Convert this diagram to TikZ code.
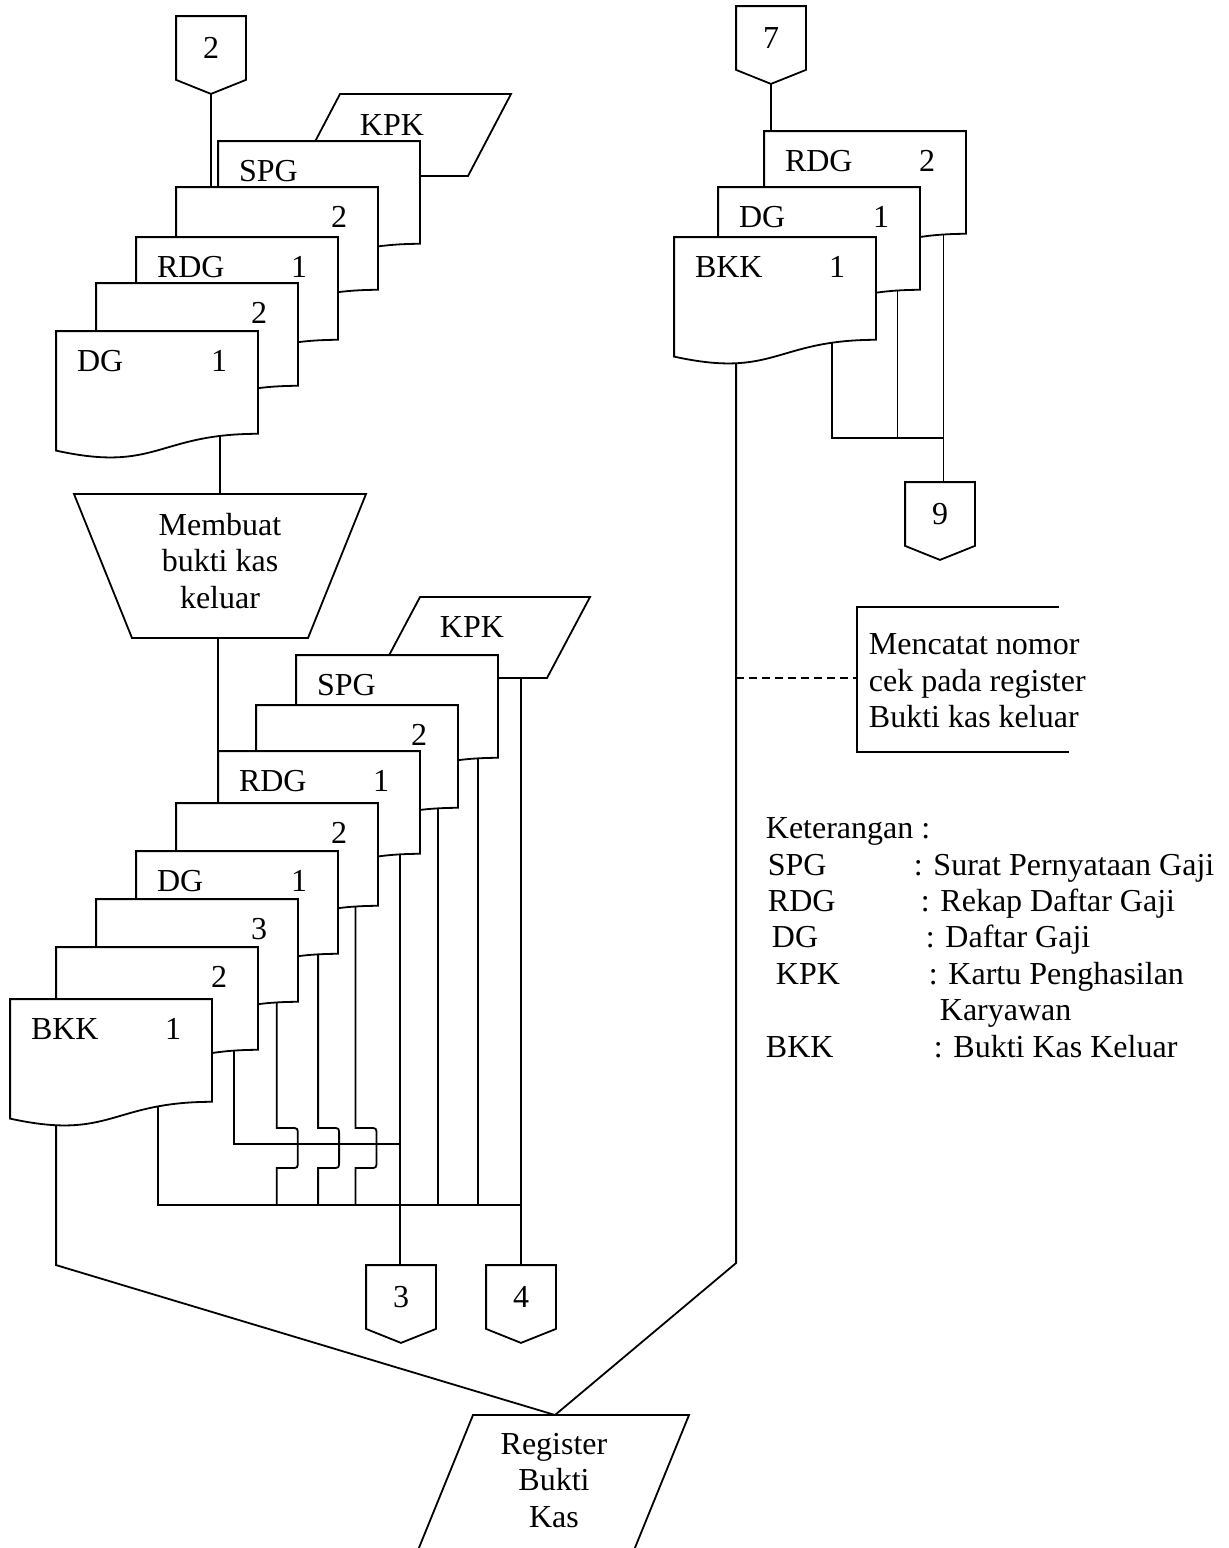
\documentclass[tikz,border=0pt]{standalone}
\usepackage{fontspec}
\setmainfont{Liberation Serif}
\usetikzlibrary{calc, positioning}

\tikzset{
  docbox/.style={rectangle, inner sep=0pt, minimum width=200pt, minimum height=128pt},
  conbox/.style={rectangle, inner sep=0pt, minimum width=68pt, minimum height=62pt},
  teks/.style={inner sep=0pt, anchor=base west},
  nomor/.style={inner sep=0pt, anchor=base},
  blok/.style={inner sep=0pt, align=center, anchor=north},
}

% dokumen: [outlet pos]{name}{left}{top}{label}{number}
\newcommand{\dokumen}[6][0.07]{%
  \node[docbox] (#2) at (#3+100,#4+64) {};
  \draw[fill=white] (#2.north west) -- (#2.north east) -- ($(#2.north east)+(0,102.7)$)
    .. controls ($(#2.north)+(0,102.7)$) and ($(#2.north)+(0,141.7)$) .. ($(#2.north west)+(0,119.5)$)
    coordinate[pos=#1] (#2-out) -- cycle;
  \node[teks] (#2-lbl) at ($(#2.north west)+(20,40.5)$) {#5};
  \node[nomor] (#2-no) at ($(#2.north west)+(163,40.5)$) {#6};
}

% off-page connector: {name}{centre x}{top}{text}
\newcommand{\offpage}[4]{%
  \node[conbox] (#1) at (#2,#3+31) {#4};
  \draw (#1.north west) -- (#1.north east) -- (#1.south east)
    -- ($(#1.south)+(0,14)$) coordinate (#1-tip) -- (#1.south west) -- cycle;
}

\begin{document}
\begin{tikzpicture}[x=1pt, y=-1pt, line width=1.8pt, font=\fontsize{32}{36.5}\selectfont]
\path[fill=white, use as bounding box] (0,0) rectangle (1229,1548);
\clip (0,0) rectangle (1229,1548);

% upper left stack
\offpage{c2}{211}{17}{2}
\draw[fill=white] (340,94) -- (511,94) -- (468,176) -- (297,176) -- cycle;
\node[nomor] (kpkA) at (392,135) {KPK};
\dokumen{spgA}{219}{142}{SPG}{}
\dokumen{rdg2A}{177}{188}{}{2}
\dokumen{rdg1A}{137}{238}{RDG}{1}
\dokumen{dg2A}{97}{284}{}{2}
\dokumen[0.145]{dg1A}{57}{332}{DG}{1}
\draw (c2-tip) -- (c2-tip |- rdg2A.north);

% manual process
\coordinate (procT) at (220,494);
\coordinate (procB) at (220,638);
\draw (74,494) -- (366,494) -- (308,638) -- (132,638) -- cycle;
\node[blok] (proc) at (220,512) {Membuat\\bukti kas\\keluar};
\draw (dg1A-out) -- (dg1A-out |- procT);

% lower left stack
\draw[fill=white] (420,597) -- (590,597) -- (547,678) -- (377,678) -- cycle;
\node[nomor] (kpkB) at (472,637) {KPK};
\coordinate (kpkB-out) at (521,678);
\dokumen{spgB}{297}{656}{SPG}{}
\dokumen{rdg2B}{257}{706}{}{2}
\dokumen{rdg1B}{219}{752}{RDG}{1}
\dokumen[0.08]{dg2B}{177}{804}{}{2}
\dokumen{dg1B}{137}{852}{DG}{1}
\dokumen[0.075]{bkk3B}{97}{900}{}{3}
\dokumen[0.085]{bkk2B}{57}{948}{}{2}
\dokumen[0.22]{bkk1B}{11}{1000}{BKK}{1}
\coordinate (bkk1B-low) at ($(bkk1B.north west)+(46,126.3)$);
\draw (rdg1B.north west |- procB) -- (rdg1B.north west);

\offpage{c3}{401}{1266}{3}
\offpage{c4}{521}{1266}{4}

\coordinate (busA) at (0,1144);
\coordinate (busB) at (0,1205);
\coordinate (jogA) at (0,1128);
\coordinate (jogB) at (0,1168);

\draw (spgB-out) -- (spgB-out |- busB);
\draw (rdg2B-out) -- (rdg2B-out |- busB);
\draw (rdg1B-out) -- (rdg1B-out |- c3.north);
\draw (bkk2B-out) |- (rdg1B-out |- busA);
\draw (bkk1B-out) |- (kpkB-out |- busB);
\draw (kpkB-out) -- (kpkB-out |- c4.north);
\foreach \d in {dg2B, dg1B, bkk3B} {
  \draw (\d-out) -- (\d-out |- jogA) -- ($(\d-out |- jogA)+(14,0)$)
    .. controls ($(\d-out |- jogA)+(21,0)$) .. ($(\d-out |- jogA)+(21,7)$)
    -- ($(\d-out |- jogB)+(21,-7)$)
    .. controls ($(\d-out |- jogB)+(21,0)$) .. ($(\d-out |- jogB)+(14,0)$)
    -- (\d-out |- jogB) -- (\d-out |- busB);
}

% register
\coordinate (regT) at (555,1415);
\draw (473,1415) -- (689,1415) -- (630,1560) -- (414,1560) -- cycle;
\node[blok] (reg) at (554,1432) {Register\\Bukti\\Kas};
\draw (bkk1B-low) -- (bkk1B-low |- c3.north) -- (regT);

% right column
\offpage{c7}{771}{7}{7}
\dokumen[0.08]{rdg2C}{765}{132}{RDG}{2}
\dokumen[0.08]{dg1C}{719}{188}{DG}{1}
\dokumen[0.17]{bkk1C}{675}{238}{BKK}{1}
\coordinate (bkk1C-low) at ($(bkk1C.north west)+(62,126)$);
\draw (c7-tip) -- (c7-tip |- rdg2C.north);
\offpage{c9}{940}{483}{9}
\coordinate (busC) at (0,438);
\draw (rdg2C-out) -- (rdg2C-out |- c9.north);
\draw (bkk1C-out) |- (rdg2C-out |- busC);
\draw (dg1C-out) -- (dg1C-out |- busC);
\coordinate (turnC) at (737,1263);
\draw (bkk1C-low) -- (bkk1C-low |- turnC) -- (regT);

% annotation
\draw (1059,607) -- (857,607) -- (857,752) -- (1069,752);
\node[inner sep=0pt, align=left, anchor=north west] (catat) at (868,633) {Mencatat nomor\\cek pada register\\Bukti kas keluar};
\coordinate (catatL) at (857,678);
\draw[line width=1.5pt, dash pattern=on 8pt off 5pt] (bkk1C-low |- catatL) -- (catatL);

% legend
\node[teks] (ket) at (765,838) {Keterangan :};
\node[teks] (kSPG) at (767,875) {SPG};
\node[teks] (dSPG) at (913,875) {: Surat Pernyataan Gaji};
\node[teks] (kRDG) at (767,911) {RDG};
\node[teks] (dRDG) at (920,911) {: Rekap Daftar Gaji};
\node[teks] (kDG) at (771,947) {DG};
\node[teks] (dDG) at (925,947) {: Daftar Gaji};
\node[teks] (kKPK) at (775,984) {KPK};
\node[teks] (dKPK) at (928,984) {: Kartu Penghasilan};
\node[teks] (dKPK2) at (939,1020) {Karyawan};
\node[teks] (kBKK) at (765,1057) {BKK};
\node[teks] (dBKK) at (933,1057) {: Bukti Kas Keluar};
\end{tikzpicture}
\end{document}
